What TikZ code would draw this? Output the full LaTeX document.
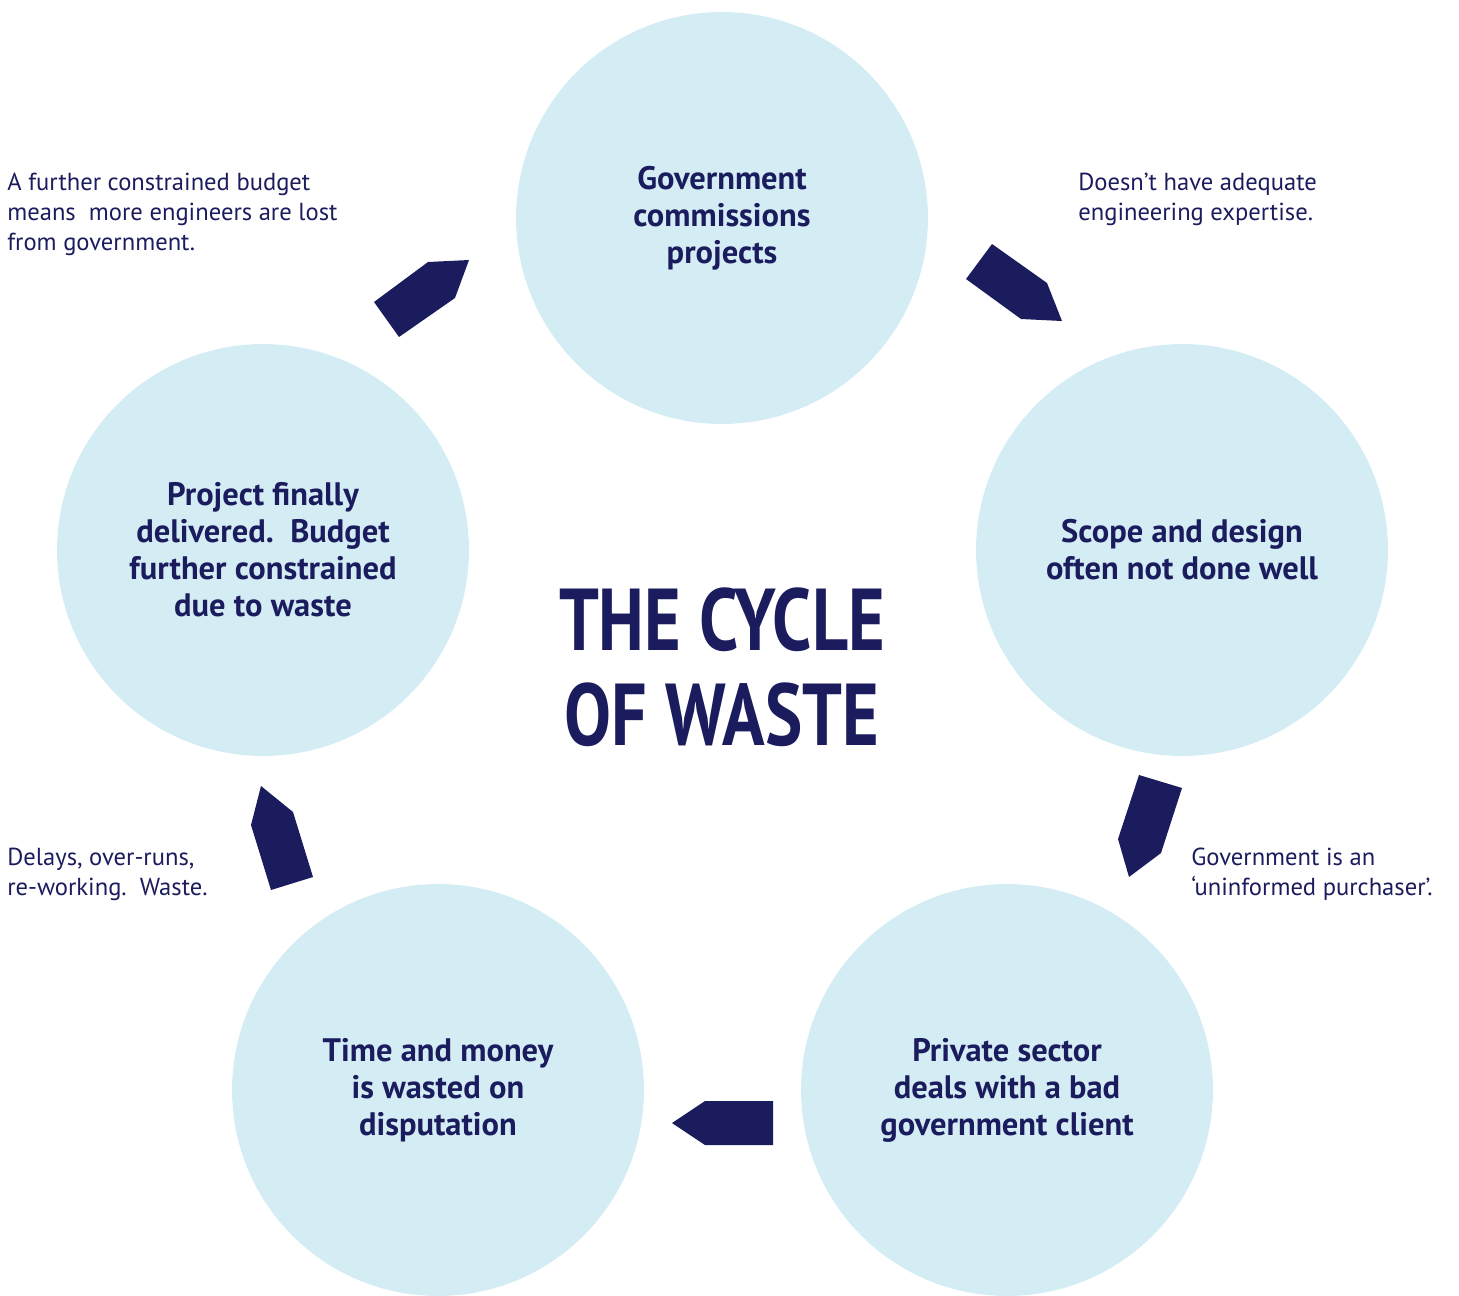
\documentclass[tikz,border=0pt]{standalone}
\usepackage{fontspec}
\setmainfont{PT Sans}
\usepackage{xcolor}
\usepackage{tikz}
\usetikzlibrary{positioning}

\definecolor{navy}{HTML}{1B1C5E}
\definecolor{paleblue}{HTML}{D4EDF4}

\tikzset{
  stage/.style={circle,fill=paleblue,minimum size=8.24cm,inner sep=0pt,
    text=navy,align=center,font=\fontsize{18.5}{21}\selectfont\bfseries},
  note/.style={anchor=north west,inner sep=0pt,text=navy,align=left,
    font=\fontsize{14}{17}\selectfont},
  blockarrow/.style={fill=navy}
}

\begin{document}
\begin{tikzpicture}[x=0.02cm,y=-0.02cm]
\useasboundingbox (0,0) rectangle (1459,1295);

% Stages of the cycle
\node[stage] (govt) at (722,218) {Government\\commissions\\projects};
\node[stage] (scope) at (1182,550) {Scope and design\\often not done well};
\node[stage] (private) at (1007,1090) {Private sector\\deals with a bad\\government client};
\node[stage] (dispute) at (438,1090) {Time and money\\is wasted on\\disputation};
\node[stage] (deliver) at (263,550) {Project finally\\delivered.\ \ Budget\\further constrained\\due to waste};

% Title
\node[text=navy,align=center,font=\fontsize{50}{54}\selectfont\bfseries] (title) at (722,667)
  {\scalebox{0.8}[1]{THE CYCLE}\\\scalebox{0.8}[1]{OF WASTE}};

% Block arrows
\fill[blockarrow] (992,244) -- (1047,283) -- (1062,321) -- (1021,319) -- (966,279) -- cycle;
\fill[blockarrow] (1139,775) -- (1182,788) -- (1161,853) -- (1129,877) -- (1118,839) -- cycle;
\fill[blockarrow] (773,1101) -- (773,1145) -- (705,1145) -- (672,1123) -- (705,1101) -- cycle;
\fill[blockarrow] (313,877) -- (271,890) -- (251,825) -- (261,786) -- (293,812) -- cycle;
\fill[blockarrow] (399,337) -- (374,302) -- (428,262) -- (469,260) -- (455,298) -- cycle;

% Notes
\node[note] (lost) at (7,173) {A further constrained budget\\means\ \ more engineers are lost\\from government.};
\node[note] (expertise) at (1078,173) {Doesn’t have adequate\\engineering expertise.};
\node[note] (purchaser) at (1191,848) {Government is an\\‘uninformed purchaser’.};
\node[note] (delays) at (7,848) {Delays, over-runs,\\re-working.\ \ Waste.};
\end{tikzpicture}
\end{document}
